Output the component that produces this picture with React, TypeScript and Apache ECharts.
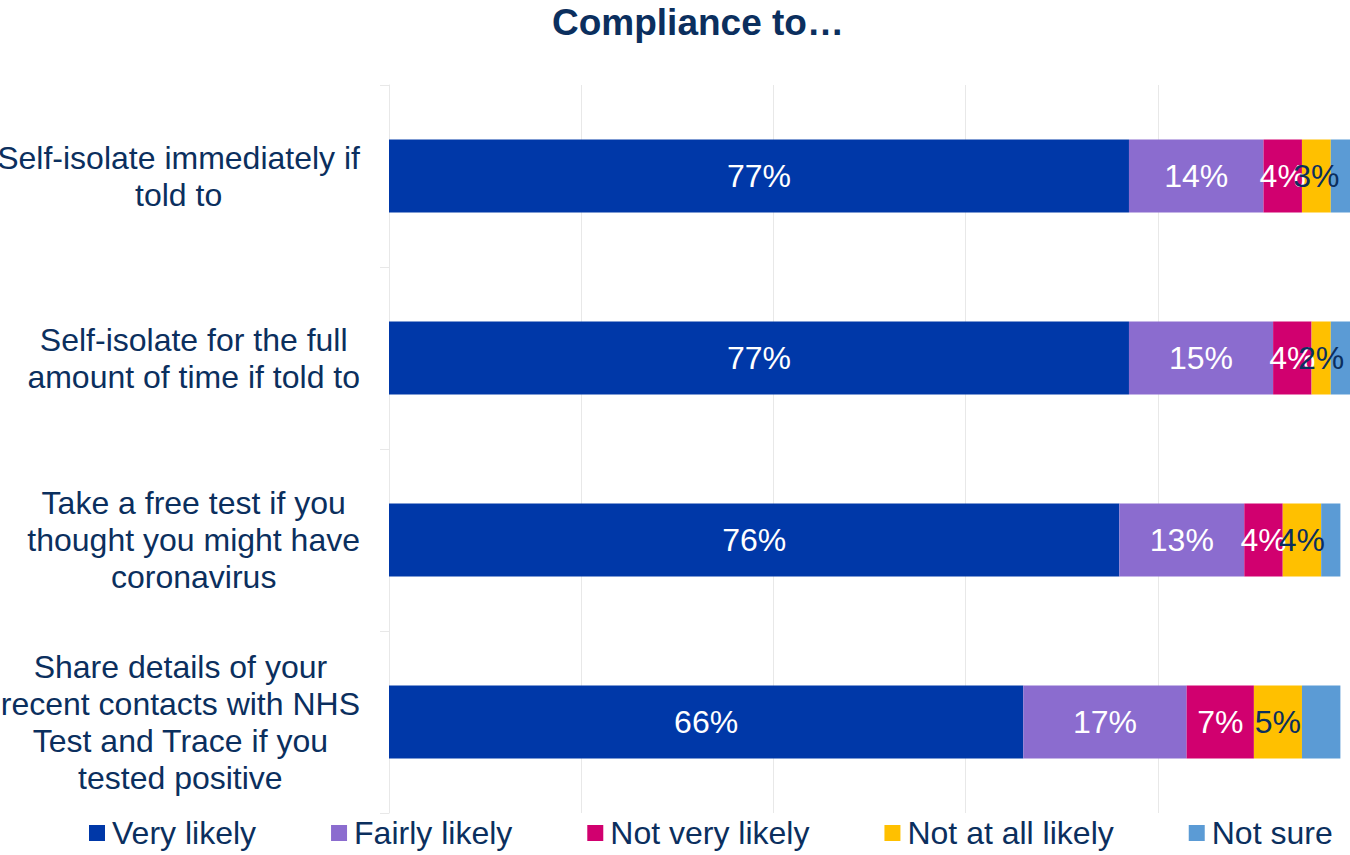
import React, { useEffect, useRef } from "react";
import * as echarts from "echarts";

const categories = [
  "Self-isolate immediately if\ntold to",
  "Self-isolate for the full\namount of time if told to",
  "Take a free test if you\nthought you might have\ncoronavirus",
  "Share details of your\nrecent contacts with NHS\nTest and Trace if you\ntested positive",
];
const seriesNames = ["Very likely", "Fairly likely", "Not very likely", "Not at all likely", "Not sure"];
const veryLikely = [77, 77, 76, 66];
const fairlyLikely = [14, 15, 13, 17];
const notVeryLikely = [4, 4, 4, 7];
const notAtAllLikely = [3, 2, 4, 5];
const notSure = [2, 2, 2, 4];
const colors = ["#0038A8", "#8B6CCF", "#D1006F", "#FFC000", "#5B9BD5"];
const xTicks = [0, 20, 40, 60, 80, 100];

const NAVY = "#0B2F5E";
const FONT = "'Liberation Sans', Arial, sans-serif";

export default function App() {
  const ref = useRef<HTMLDivElement>(null);
  useEffect(() => {
    if (!ref.current) return;
    const chart = echarts.init(ref.current, null, { renderer: "svg" });
    const values = [veryLikely, fairlyLikely, notVeryLikely, notAtAllLikely, notSure];
    const labelColors = ["#FFFFFF", "#FFFFFF", "#FFFFFF", NAVY, NAVY];
    chart.setOption({
      animation: false,
      textStyle: { fontFamily: FONT },
      title: {
        text: "Compliance to\u2026",
        left: 547,
        top: -1,
        textStyle: { fontSize: 37, fontWeight: "bold", color: NAVY, fontFamily: FONT },
      },
      legend: {
        data: seriesNames,
        left: 84,
        top: 812,
        itemGap: 75,
        itemWidth: 16,
        itemHeight: 16,
        icon: "rect",
        textStyle: { fontSize: 32, color: NAVY, fontFamily: FONT, padding: [0, 0, 0, 2] },
        itemStyle: { borderWidth: 0 },
      },
      grid: {
        left: 389,
        right: 0,
        top: 85,
        bottom: 42,
        containLabel: false,
        outerBoundsMode: "none",
      },
      xAxis: {
        type: "value",
        min: xTicks[0],
        max: xTicks[xTicks.length - 1],
        interval: 20,
        axisLabel: { show: false },
        axisLine: { show: false },
        axisTick: { show: false },
        splitLine: { show: true, lineStyle: { color: "#E8E8E8", width: 1 } },
      },
      yAxis: {
        type: "category",
        inverse: true,
        data: categories,
        axisLine: { show: true, lineStyle: { color: "#E8E8E8", width: 1 } },
        axisTick: { show: true, length: 9, lineStyle: { color: "#E8E8E8", width: 1 } },
        axisLabel: {
          margin: 29,
          formatter: (v: string) =>
            v
              .split("\n")
              .map((l) => `{a|${l}}`)
              .join("\n"),
          rich: {
            a: {
              align: "center",
              fontSize: 32,
              lineHeight: 37,
              color: NAVY,
              fontFamily: FONT,
            },
          },
        },
      },
      series: seriesNames.map((name, i) => ({
        name,
        type: "bar",
        stack: "total",
        barWidth: 73,
        data: values[i],
        itemStyle: { color: colors[i] },
        label: {
          show: i < 4,
          position: "inside",
          formatter: "{c}%",
          fontSize: 32,
          color: labelColors[i],
          fontFamily: FONT,
        },
      })),
    });
    return () => chart.dispose();
  }, []);
  return (
    <div
      ref={ref}
      style={{ position: "fixed", left: 0, top: 0, width: 1350, height: 855, background: "#fff" }}
    />
  );
}
